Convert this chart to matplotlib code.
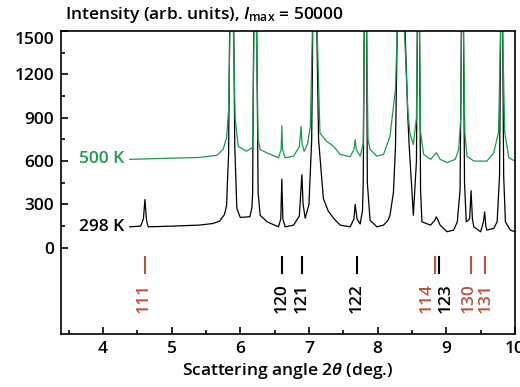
import matplotlib
matplotlib.use("Agg")
import matplotlib.pyplot as plt
from matplotlib.ticker import MultipleLocator, FixedLocator
import matplotlib.transforms as mtrans

plt.rcParams['font.family'] = ['Open Sans', 'DejaVu Sans']
plt.rcParams['font.weight'] = 'semibold'
plt.rcParams['axes.labelweight'] = 'semibold'
plt.rcParams['mathtext.fontset'] = 'custom'
plt.rcParams['mathtext.rm'] = 'Open Sans:semibold'
plt.rcParams['mathtext.it'] = 'Open Sans:italic:semibold'

GREEN = '#1a9a4a'
BROWN = '#b5563f'

# 298 K scan (peaks above 1500 are clipped)
x298 = [4.39, 4.55, 4.59, 4.612, 4.635, 4.66, 5.0, 5.4, 5.6, 5.7, 5.77, 5.80, 5.83,
        5.845, 5.875, 5.905, 5.92, 5.95, 6.00, 6.14, 6.17, 6.18, 6.195, 6.218, 6.24,
        6.26, 6.29, 6.39, 6.556, 6.59, 6.605, 6.62, 6.654, 6.776, 6.86, 6.897,
        6.915, 6.945, 7.00, 7.04, 7.055, 7.085, 7.115, 7.14, 7.21, 7.28, 7.357, 7.455,
        7.60, 7.655, 7.673, 7.70, 7.746, 7.78, 7.79, 7.805, 7.822, 7.84, 7.85, 7.89,
        7.99, 8.086, 8.15, 8.18, 8.23, 8.26, 8.285, 8.34, 8.40, 8.44, 8.46, 8.52,
        8.565, 8.578, 8.595, 8.61, 8.625, 8.645, 8.77, 8.83, 8.855, 8.88, 8.91,
        9.01, 9.107, 9.16, 9.20, 9.22, 9.235, 9.25, 9.265, 9.29, 9.34, 9.36,
        9.38, 9.40, 9.50, 9.54, 9.558, 9.575, 9.59, 9.69, 9.74, 9.775, 9.79,
        9.805, 9.82, 9.835, 9.86, 9.93, 10.0]
y298 = [145, 150, 200, 334, 190, 145, 150, 157, 168, 185, 230, 290, 650,
        1500, 8000, 1500, 700, 273, 210, 215, 280, 380, 1500, 8000, 1500,
        380, 225, 180, 145, 200, 475, 200, 145, 157, 220, 505,
        300, 205, 300, 750, 1500, 8000, 1500, 750, 341, 255, 205, 157,
        145, 200, 300, 200, 165, 260, 450, 1500, 8000, 1500, 450, 190,
        145, 157, 190, 225, 384, 700, 1500, 5000, 1500, 900, 700, 225,
        600, 1500, 8000, 1500, 400, 180, 157, 190, 214, 190, 157,
        111, 123, 180, 400, 1500, 8000, 1500, 450, 180, 200, 395,
        200, 145, 111, 180, 248, 150, 123, 134, 180, 500, 1500,
        8000, 1500, 500, 180, 123, 111]

# 500 K scan
x500 = [4.39, 5.0, 5.4, 5.66, 5.75, 5.80, 5.83, 5.85, 5.875, 5.90, 5.925, 5.97, 6.09,
        6.18, 6.20, 6.218, 6.235, 6.26, 6.29, 6.386, 6.556, 6.595, 6.605, 6.615,
        6.654, 6.776, 6.86, 6.886, 6.90, 6.93, 6.98, 7.02, 7.05, 7.085, 7.12, 7.16,
        7.25, 7.357, 7.455, 7.60, 7.655, 7.673, 7.69, 7.746, 7.79, 7.805, 7.822, 7.84,
        7.86, 7.89, 7.99, 8.086, 8.18, 8.26, 8.285, 8.33, 8.39, 8.44, 8.47, 8.52,
        8.565, 8.578, 8.595, 8.61, 8.625, 8.67, 8.77, 8.855, 8.91, 9.01, 9.13,
        9.18, 9.21, 9.22, 9.235, 9.25, 9.27, 9.30, 9.40, 9.59, 9.69, 9.76, 9.79,
        9.805, 9.82, 9.85, 9.91, 10.0]
y500 = [612, 620, 625, 640, 680, 760, 950, 1500, 8000, 1500, 900, 702, 668,
        695, 1500, 8000, 1500, 750, 680, 657, 623, 680, 846, 680,
        623, 634, 700, 839, 720, 668, 720, 839, 1500, 8000, 1500, 793,
        740, 702, 646, 630, 680, 748, 680, 634, 720, 1500, 8000, 1500,
        750, 680, 634, 646, 771, 1100, 1500, 5000, 1500, 950, 793, 714,
        900, 1500, 8000, 1500, 800, 646, 612, 657, 612, 589, 612,
        680, 900, 1500, 8000, 1500, 800, 634, 600, 600, 657, 800, 1500,
        8000, 1500, 800, 623, 600]

# reflection markers: position, label, label position, colour
refl_pos = [4.61, 6.605, 6.897, 7.70, 8.84, 8.888, 9.36, 9.558]
refl_lab = ['111', '120', '121', '122', '114', '123', '130', '131']
refl_txt = [4.60, 6.60, 6.89, 7.69, 8.72, 8.99, 9.33, 9.57]
refl_col = [BROWN, 'black', 'black', 'black', BROWN, 'black', BROWN, BROWN]

FS = 12.5

fig = plt.figure(figsize=(5.2, 3.87), dpi=100)
ax = fig.add_axes([0.1173, 0.137, 0.8731, 0.783])

ax.plot(x298, y298, color='black', lw=0.9)
ax.plot(x500, y500, color=GREEN, lw=0.9)

for p, lab, tp, c in zip(refl_pos, refl_lab, refl_txt, refl_col):
    ax.plot([p, p], [-62, -173], color=c, lw=1.5)
    ax.text(tp, -243, lab, rotation=90, ha='center', va='top', color=c, fontsize=FS)

ax.text(4.31, 617, '500 K', color=GREEN, ha='right', va='center', fontsize=FS)
ax.text(4.31, 142, '298 K', color='black', ha='right', va='center', fontsize=FS)

ax.set_xlim(3.39, 10)
ax.set_ylim(-596, 1500)
ax.xaxis.set_major_locator(MultipleLocator(1))
ax.xaxis.set_minor_locator(MultipleLocator(0.5))
ax.yaxis.set_major_locator(FixedLocator([0, 300, 600, 900, 1200, 1500]))
ax.yaxis.set_minor_locator(FixedLocator([150, 450, 750, 1050, 1350]))
ax.tick_params(which='both', direction='in', labelsize=FS, width=1.2)
ax.tick_params(which='major', length=5, pad=5)
ax.tick_params(which='minor', length=3)
for s in ax.spines.values():
    s.set_linewidth(1.2)

fig.canvas.draw()
lbl = ax.get_yticklabels()[-1]
lbl.set_transform(lbl.get_transform() + mtrans.ScaledTranslation(0, -7 / 100, fig.dpi_scale_trans))

ax.set_xlabel(r'Scattering angle 2$\it{\theta}$ (deg.)', fontsize=FS, labelpad=3)
fig.text(0.125, 0.962, r'Intensity (arb. units), $I_{\mathrm{max}}$ = 50000',
         ha='left', va='center', fontsize=FS)

fig.savefig('out.png', dpi=100)
